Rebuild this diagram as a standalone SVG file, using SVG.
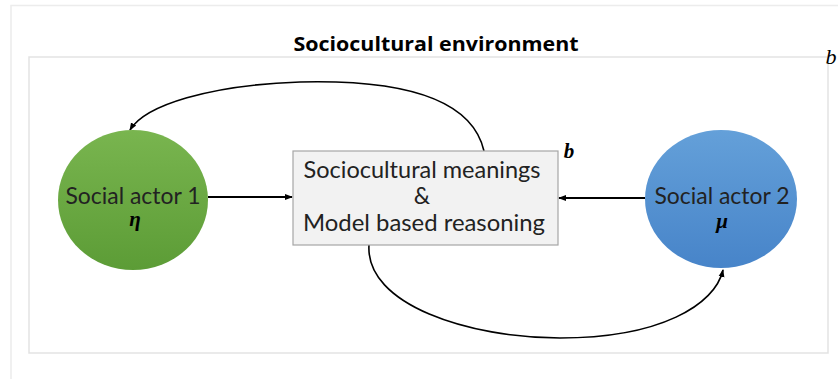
<svg xmlns="http://www.w3.org/2000/svg" width="838" height="379" viewBox="0 0 838 379">
<defs>
<linearGradient id="gGreen" x1="0" y1="0" x2="0" y2="1">
<stop offset="0" stop-color="#79b54f"/>
<stop offset="1" stop-color="#5c9c36"/>
</linearGradient>
<linearGradient id="gBlue" x1="0" y1="0" x2="0" y2="1">
<stop offset="0" stop-color="#64a0d9"/>
<stop offset="1" stop-color="#4784c9"/>
</linearGradient>
<marker id="arr" markerWidth="8" markerHeight="8" refX="7" refY="4" orient="auto" markerUnits="userSpaceOnUse">
<path d="M0,1 L8,4 L0,7 Z" fill="#000"/>
</marker>
</defs>
<style>
.frame{fill:none;stroke:#ececec;stroke-width:1.5}
.inner{fill:#fff;stroke:#e3e3e3;stroke-width:1.5}
.lbl{font-family:"Lato","Open Sans",sans-serif;font-size:23px;fill:#222;text-anchor:middle}
.math{font-family:"Liberation Serif","DejaVu Serif",serif;font-style:italic;font-weight:bold;font-size:21px;fill:#000;text-anchor:middle}
.title{font-family:"Open Sans","Lato",sans-serif;font-weight:700;font-size:19.5px;fill:#000;text-anchor:middle}
.conn{fill:none;stroke:#000;stroke-width:1.6}
.straight{stroke-width:2}
</style>
<rect width="838" height="379" fill="#fff"/>
<path class="frame" d="M11,379 L11,5.5 L838,5.5"/>
<rect class="inner" x="29" y="57" width="799" height="296"/>
<text class="title" x="436" y="51" textLength="285" lengthAdjust="spacingAndGlyphs">Sociocultural environment</text>
<text class="math" x="831" y="64" style="font-weight:normal;font-size:22px">b</text>
<g id="connectors">
<path class="conn straight" d="M208,197 L292,197" marker-end="url(#arr)"/>
<path class="conn straight" d="M645,198 L559,198" marker-end="url(#arr)"/>
<path class="conn" d="M484,151 C470,90 380,80 300,82 C210,85 145,105 130,130" marker-end="url(#arr)"/>
<path class="conn" d="M369,245 C365,305 470,338 560,338 C660,338 715,305 723,270" marker-end="url(#arr)"/>
</g>
<g id="actor1">
<ellipse cx="133" cy="200" rx="75" ry="70" fill="url(#gGreen)"/>
<text class="lbl" x="133" y="204" textLength="135" lengthAdjust="spacingAndGlyphs">Social actor 1</text>
<text class="math" x="135" y="226">η</text>
</g>
<g id="meanings">
<rect x="293" y="151" width="265" height="94" fill="#f2f2f2" stroke="#a6a6a6" stroke-width="1.2"/>
<text class="lbl" x="422" y="178" textLength="237" lengthAdjust="spacingAndGlyphs">Sociocultural meanings</text>
<text class="lbl" x="422" y="204">&amp;</text>
<text class="lbl" x="424" y="231" textLength="242" lengthAdjust="spacingAndGlyphs">Model based reasoning</text>
<text class="math" x="569" y="158">b</text>
</g>
<g id="actor2">
<ellipse cx="721" cy="199" rx="76" ry="69" fill="url(#gBlue)"/>
<text class="lbl" x="722" y="204" textLength="135" lengthAdjust="spacingAndGlyphs">Social actor 2</text>
<text class="math" x="722" y="228">μ</text>
</g>
</svg>
